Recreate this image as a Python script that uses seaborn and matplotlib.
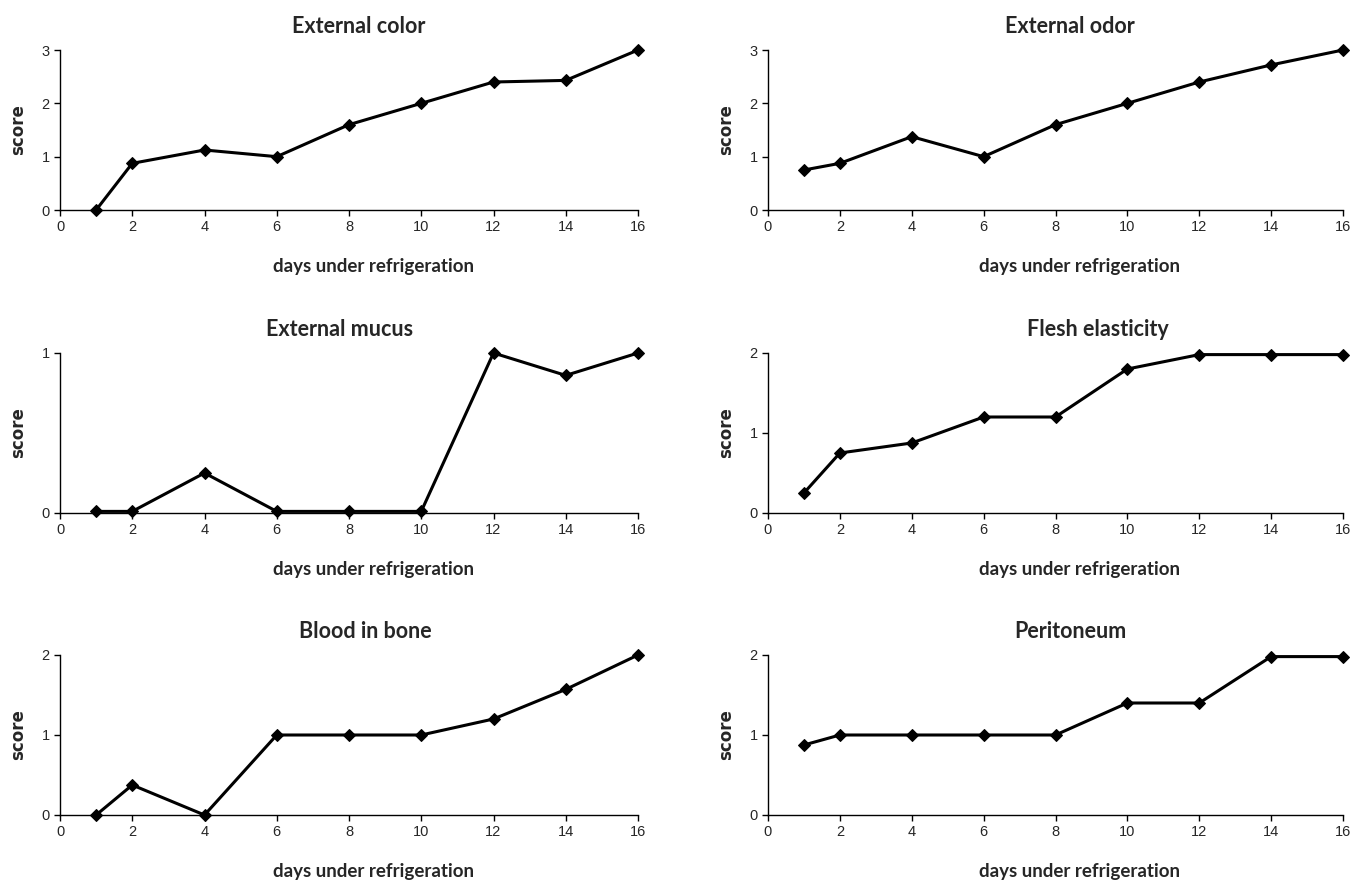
import matplotlib
matplotlib.use("Agg")
import matplotlib.pyplot as plt
import seaborn as sns
import pandas as pd

days = [1, 2, 4, 6, 8, 10, 12, 14, 16]

external_color = [0, 0.875, 1.125, 1.0, 1.6, 2.0, 2.4, 2.43, 3.0]
external_odor = [0.75, 0.875, 1.375, 1.0, 1.6, 2.0, 2.4, 2.72, 3.0]
external_mucus = [0.01, 0.01, 0.25, 0.01, 0.01, 0.01, 1.0, 0.86, 1.0]
flesh_elasticity = [0.25, 0.75, 0.875, 1.2, 1.2, 1.8, 1.98, 1.98, 1.98]
blood_in_bone = [0, 0.375, 0, 1.0, 1.0, 1.0, 1.2, 1.57, 2.0]
peritoneum = [0.875, 1.0, 1.0, 1.0, 1.0, 1.4, 1.4, 1.98, 1.98]

titles = ["External color", "External odor", "External mucus",
          "Flesh elasticity", "Blood in bone", "Peritoneum"]
series = [external_color, external_odor, external_mucus,
          flesh_elasticity, blood_in_bone, peritoneum]
y_max = [3, 3, 1, 2, 2, 2]

sns.set_style("white")
plt.rcParams['font.family'] = ['Liberation Sans Narrow', 'Liberation Sans', 'DejaVu Sans']

fig = plt.figure(figsize=(13.53, 8.81), dpi=100)

W, H = 1353, 881
lefts = [60, 768]
widths = [578, 575]
bottoms = [210, 513, 815]  # pixel y of the zero line
height = 160
title_x = [0.516, 0.525, 0.484, 0.574, 0.528, 0.525]

for i, (title, vals, ym) in enumerate(zip(titles, series, y_max)):
    row, col = divmod(i, 2)
    ax = fig.add_axes([lefts[col] / W, 1 - bottoms[row] / H,
                       widths[col] / W, height / H])
    df = pd.DataFrame({"day": days, "score": vals})
    sns.lineplot(data=df, x="day", y="score", ax=ax, color="black",
                 linewidth=2.2, marker="D", markersize=6.5,
                 markeredgecolor="black", clip_on=False)
    ax.set_xlim(0, 16)
    ax.set_ylim(0, ym)
    ax.set_xticks(range(0, 17, 2))
    ax.set_yticks(range(0, ym + 1))
    for s in ["top", "right"]:
        ax.spines[s].set_visible(False)
    for s in ["left", "bottom"]:
        ax.spines[s].set_color("black")
        ax.spines[s].set_linewidth(1.0)
    ax.tick_params(axis="both", direction="out", length=4, width=1,
                   color="black", labelsize=10.5, left=True, bottom=True)
    ax.set_title(title, fontsize=15.5, fontweight="bold", family="Lato",
                 pad=12, x=title_x[i])
    ax.set_xlabel("days under refrigeration", fontsize=13.5,
                  fontweight="bold", family="Lato")
    ax.xaxis.set_label_coords(0.542, -0.30)
    ax.set_ylabel("score", fontsize=12, fontweight="bold",
                  family="DejaVu Sans", labelpad=10)

fig.savefig("out.png", dpi=100)
